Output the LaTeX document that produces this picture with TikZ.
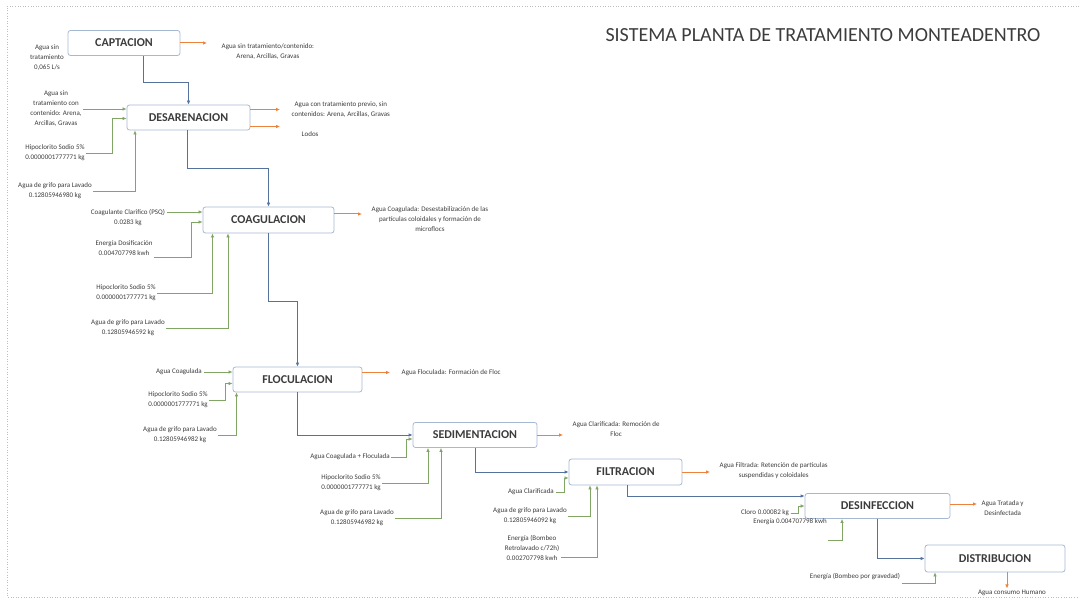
\documentclass[tikz,border=0pt]{standalone}
\usepackage{fontspec}
\setmainfont{Carlito}
\usetikzlibrary{positioning, arrows.meta}

\definecolor{boxline}{RGB}{165,185,210}
\definecolor{flowc}{RGB}{84,114,156}
\definecolor{inc}{RGB}{128,165,100}
\definecolor{outc}{RGB}{237,130,60}
\definecolor{txt}{RGB}{60,60,60}
\definecolor{framec}{RGB}{190,190,190}

\begin{document}
\begin{tikzpicture}[
  x=1pt, y=-1pt,
  >={Latex[length=4pt,width=3.6pt]},
  proc/.style={draw=boxline, line width=0.8pt, rounded corners=2.5pt, fill=white,
               minimum height=25pt, text=txt, font=\fontsize{12}{14}\selectfont\bfseries},
  lab/.style={align=center, text=txt, inner sep=1.5pt, font=\fontsize{7}{10}\selectfont},
  flow/.style={->, draw=flowc, line width=0.8pt},
  inflow/.style={->, draw=inc, line width=0.7pt},
  outflow/.style={->, draw=outc, line width=1pt}
]
  \useasboundingbox (0,0) rectangle (1081,601);
  \draw[framec, dotted, line width=0.6pt] (1079,6) -- (7,6) -- (7,597) -- (1079,597);

  \node[font=\fontsize{20}{24}\selectfont, text=txt] (title) at (823,35)
    {SISTEMA PLANTA DE TRATAMIENTO MONTEADENTRO};

  % process boxes
  \node[proc, minimum width=112pt] (cap) at (124,43) {CAPTACION};
  \node[proc, minimum width=123pt] (desa) at (188.5,117.5) {DESARENACION};
  \node[proc, minimum width=131pt, minimum height=26pt] (coag) at (268.5,220) {COAGULACION};
  \node[proc, minimum width=129pt] (floc) at (297.5,379.5) {FLOCULACION};
  \node[proc, minimum width=124pt] (sedi) at (475,435) {SEDIMENTACION};
  \node[proc, minimum width=113pt, minimum height=26pt] (filt) at (625.5,472) {FILTRACION};
  \node[proc, minimum width=145pt] (desi) at (877.5,506) {DESINFECCION};
  \node[proc, minimum width=140pt, minimum height=27pt] (dist) at (995,558.5) {DISTRIBUCION};

  % main water line
  \draw[flow] ([xshift=19pt]cap.south) -- ++(0,27) -| (desa.north);
  \draw[flow] ([xshift=-1.5pt]desa.south) -- ++(0,38) -| (coag.north);
  \draw[flow] (coag.south) -- ++(0,68) -| (floc.north);
  \draw[flow] (floc.south) |- (sedi.west);
  \draw[flow] (sedi.south) |- (filt.west);
  \draw[flow] ([xshift=1.5pt]filt.south) |- ([yshift=10pt]desi.west);
  \draw[flow] (desi.south) |- (dist.west);

  % captacion
  \node[lab] (capIn) at (47,58) {Agua sin\\tratamiento\\0,065 L/s};
  \node[lab, anchor=west] (capOut) at (220,52) {Agua sin tratamiento/contenido:\\Arena, Arcillas, Gravas};
  \draw[outflow] (cap.east) -- ([xshift=-13pt]cap.east -| capOut.west);

  % desarenacion
  \node[lab] (desaIn1) at (56,109) {Agua sin\\tratamiento con\\contenido: Arena,\\Arcillas, Gravas};
  \node[lab] (desaIn2) at (55,153) {Hipoclorito Sodio 5\%\\0.0000001777771 kg};
  \node[lab] (desaIn3) at (55,191) {Agua de grifo para Lavado\\0.12805946980 kg};
  \draw[inflow] (desaIn1.east) -- (desaIn1.east -| desa.west);
  \draw[inflow] (desaIn2.east) -| ([xshift=-14pt,yshift=-1pt]desa.west) -- ([yshift=-1pt]desa.west);
  \draw[inflow] (desaIn3.east) -| ([xshift=-53.5pt]desa.south);
  \node[lab, anchor=west] (desaOut) at (290,110) {Agua con tratamiento previo, sin\\contenidos: Arena, Arcillas, Gravas};
  \node[lab, anchor=west] (lodos) at (300,134) {Lodos};
  \draw[outflow] ([yshift=8pt]desa.east) -- ([xshift=-10pt,yshift=8pt]desa.east -| desaOut.west);
  \draw[outflow] ([yshift=-9pt]desa.east) -- ([xshift=-20pt,yshift=-9pt]desa.east -| lodos.west);

  % coagulacion
  \node[lab] (coagIn1) at (128,218) {Coagulante Clarifico (PSQ)\\0.0283 kg};
  \node[lab] (coagIn2) at (124,248) {Energía Dosificación\\0.004707798 kwh};
  \node[lab] (coagIn3) at (126,293) {Hipoclorito Sodio 5\%\\0.0000001777771 kg};
  \node[lab] (coagIn4) at (128,328) {Agua de grifo para Lavado\\0.12805946592 kg};
  \draw[inflow] ([yshift=6pt]coagIn1.east) -- ([yshift=6pt]coagIn1.east -| coag.west);
  \draw[inflow] ([yshift=-9pt]coagIn2.east) -| ([xshift=-11pt,yshift=-2pt]coag.west) -- ([yshift=-2pt]coag.west);
  \draw[inflow] (coagIn3.east) -| ([xshift=-56pt]coag.south);
  \draw[inflow] (coagIn4.east) -| ([xshift=-40.5pt]coag.south);
  \node[lab, anchor=west] (coagOut) at (370,219) {Agua Coagulada: Desestabilización de las\\partículas coloidales y formación de\\microflocs};
  \draw[outflow] ([yshift=6pt]coag.east) -- ([xshift=-8pt,yshift=6pt]coag.east -| coagOut.west);

  % floculacion
  \node[lab] (flocIn1) at (179,372) {Agua Coagulada};
  \node[lab] (flocIn2) at (178,400) {Hipoclorito Sodio 5\%\\0.0000001777771 kg};
  \node[lab] (flocIn3) at (180,435) {Agua de grifo para Lavado\\0.12805946982 kg};
  \draw[inflow] (flocIn1.east) -- (flocIn1.east -| floc.west);
  \draw[inflow] (flocIn2.east) -| ([xshift=-7pt,yshift=-4pt]floc.west) -- ([yshift=-4pt]floc.west);
  \draw[inflow] (flocIn3.east) -| ([xshift=-61pt]floc.south);
  \node[lab, anchor=west] (flocOut) at (400,372.5) {Agua Floculada: Formación de Floc};
  \draw[outflow] ([yshift=7pt]floc.east) -- ([xshift=-10pt,yshift=7pt]floc.east -| flocOut.west);

  % sedimentacion
  \node[lab] (sediIn1) at (350,457) {Agua Coagulada + Floculada};
  \node[lab] (sediIn2) at (351,483) {Hipoclorito Sodio 5\%\\0.0000001777771 kg};
  \node[lab] (sediIn3) at (357,518) {Agua de grifo para Lavado\\0.12805946982 kg};
  \draw[inflow] (sediIn1.east) -| ([xshift=-6pt,yshift=-4pt]sedi.west) -- ([yshift=-4pt]sedi.west);
  \draw[inflow] (sediIn2.east) -| ([xshift=-47pt]sedi.south);
  \draw[inflow] (sediIn3.east) -| ([xshift=-34pt]sedi.south);
  \node[lab, anchor=west] (sediOut) at (571,429.5) {Agua Clarificada: Remoción de\\Floc};
  \draw[outflow] (sedi.east) -- ([xshift=-8pt]sedi.east -| sediOut.west);

  % filtracion
  \node[lab] (filtIn1) at (531,492) {Agua Clarificada};
  \node[lab] (filtIn2) at (530,516) {Agua de grifo para Lavado\\0.12805946092 kg};
  \node[lab] (filtIn3) at (532,548) {Energía (Bombeo\\Retrolavado c/72h)\\0.002707798 kwh};
  \draw[inflow] (filtIn1.east) -| ([xshift=-4pt,yshift=-6pt]filt.west) -- ([yshift=-6pt]filt.west);
  \draw[inflow] (filtIn2.east) -| ([xshift=-35.5pt]filt.south);
  \draw[inflow] ([yshift=-9pt]filtIn3.east) -| ([xshift=-28.5pt]filt.south);
  \node[lab, anchor=west] (filtOut) at (718,471) {Agua Filtrada: Retención de partículas\\suspendidas y coloidales};
  \draw[outflow] (filt.east) -- ([xshift=-8pt]filt.east -| filtOut.west);

  % desinfeccion
  \node[lab] (desiIn1) at (765,513) {Cloro 0.00082 kg};
  \node[lab] (desiIn2) at (790,522) {Energía 0.004707798 kwh};
  \draw[inflow] (desiIn1.east) -| ([xshift=-6pt]desi.west) -- (desi.west);
  \draw[inflow] ([yshift=-18pt]desiIn2.east) -| ([xshift=-35.5pt]desi.south);
  \node[lab, anchor=west] (desiOut) at (980,508) {Agua Tratada y\\Desinfectada};
  \draw[outflow] ([yshift=2pt]desi.east) -- ([xshift=-3pt,yshift=2pt]desi.east -| desiOut.west);

  % distribucion
  \node[lab] (distIn) at (855,577) {Energía (Bombeo por gravedad)};
  \draw[inflow] ([yshift=-6pt]distIn.east) -| ([xshift=-60pt]dist.south);
  \node[lab] (distOut) at (1012,593) {Agua consumo Humano};
  \draw[outflow] ([xshift=12pt]dist.south) -- ([xshift=12pt]dist.south |- distOut.north);
\end{tikzpicture}
\end{document}
